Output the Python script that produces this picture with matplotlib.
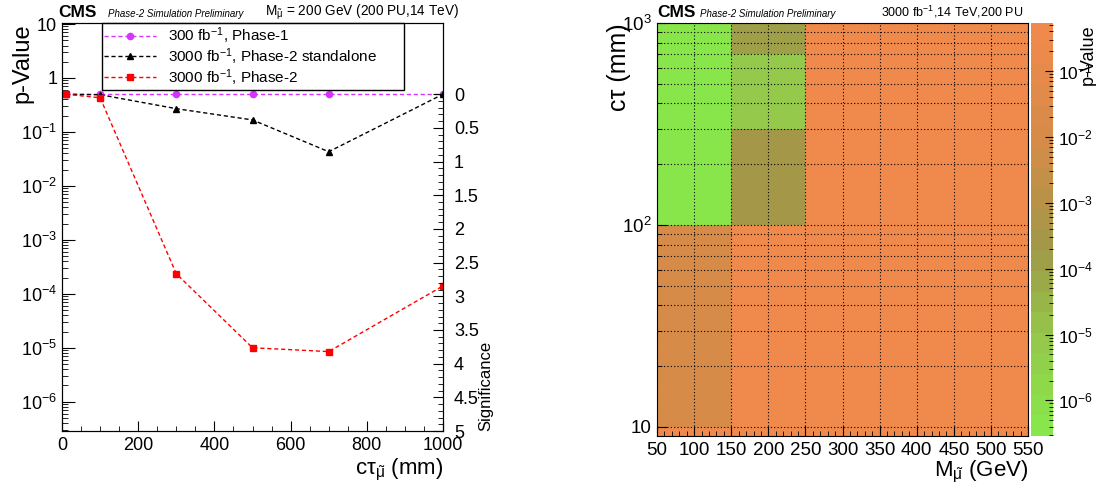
import math
import matplotlib
matplotlib.use('Agg')
import matplotlib.pyplot as plt
import numpy as np
from matplotlib.colors import LinearSegmentedColormap, ListedColormap, LogNorm
from matplotlib.ticker import FixedLocator, FixedFormatter, MultipleLocator, LogLocator, NullFormatter

plt.rcParams['font.family'] = ['Liberation Sans', 'DejaVu Sans']
plt.rcParams['mathtext.fontset'] = 'custom'
plt.rcParams['mathtext.rm'] = 'Liberation Sans'
plt.rcParams['mathtext.it'] = 'Liberation Sans:italic'
plt.rcParams['mathtext.bf'] = 'Liberation Sans:bold'

# ---- left panel data: p-value vs c*tau at M = 200 GeV
ctau = [10, 100, 300, 500, 700, 1000]
p_phase1 = [0.5, 0.5, 0.5, 0.5, 0.5, 0.5]
p_phase2_sa = [0.5, 0.49, 0.27, 0.167, 0.043, 0.5]
p_phase2 = [0.5, 0.43, 2.35e-4, 1.0e-5, 8.5e-6, 1.4e-4]

sig_labels = [0, 0.5, 1, 1.5, 2, 2.5, 3, 3.5, 4, 4.5, 5]

# ---- right panel data: p-value map in (mass, c*tau)
mass_edges = [50, 150, 250, 350, 450, 550]
ctau_edges = [9, 10, 100, 300, 700, 1000]
pmap = [
    [0.5, 0.5, 0.5, 0.5, 0.5],        # 9-10 mm
    [1.0e-2, 0.5, 0.5, 0.5, 0.5],     # 10-100 mm
    [3.0e-7, 2.35e-4, 0.5, 0.5, 0.5], # 100-300 mm
    [3.0e-7, 1.0e-5, 0.5, 0.5, 0.5],  # 300-700 mm
    [3.0e-7, 1.4e-4, 0.5, 0.5, 0.5],  # 700-1000 mm
]


def z_to_p(z):
    return 0.5 * math.erfc(z / math.sqrt(2))


p_min = z_to_p(5.0)
p_top = 10 ** (1 + 1 / 54.)

fig = plt.figure(figsize=(10.96, 4.90), dpi=100)

# ================= left panel =================
ax = fig.add_axes([0.0566, 0.1204, 0.3476, 0.8326])
ls = (0, (3, 2))
ax.plot(ctau, p_phase1, color='#d633ff', ls=ls, lw=1, marker='o', ms=4.5,
        label='300 fb$^{-1}$, Phase-1')
ax.plot(ctau, p_phase2_sa, color='black', ls=ls, lw=1, marker='^', ms=4.5,
        label='3000 fb$^{-1}$, Phase-2 standalone')
ax.plot(ctau, p_phase2, color='#ff0000', ls=ls, lw=1, marker='s', ms=5,
        label='3000 fb$^{-1}$, Phase-2')
ax.set_yscale('log')
ax.set_xlim(0, 1000)
ax.set_ylim(p_min, p_top)
ax.xaxis.set_major_locator(MultipleLocator(200))
ax.xaxis.set_minor_locator(MultipleLocator(50))
ax.yaxis.set_major_locator(FixedLocator([1e-6, 1e-5, 1e-4, 1e-3, 1e-2, 1e-1, 1, 10]))
ax.yaxis.set_major_formatter(FixedFormatter(['$10^{-6}$', '$10^{-5}$', '$10^{-4}$', '$10^{-3}$',
                                             '$10^{-2}$', '$10^{-1}$', '1', '10']))
ax.yaxis.set_minor_locator(LogLocator(base=10, subs=np.arange(2, 10), numticks=20))
ax.yaxis.set_minor_formatter(NullFormatter())
ax.tick_params(which='both', direction='in', labelsize=13, right=False, top=False)
ax.tick_params(axis='y', which='major', length=9)
ax.tick_params(axis='y', which='minor', length=4.5)
ax.tick_params(axis='x', which='major', length=7, pad=4)
ax.tick_params(axis='x', which='minor', length=3.5)

leg = ax.legend(loc='upper left', bbox_to_anchor=(0.105, 0.843, 0.793, 0.157), mode='expand',
                fontsize=11, frameon=True, fancybox=False, edgecolor='black', framealpha=1,
                borderaxespad=0, handlelength=3.4, handletextpad=0.8, labelspacing=0.02,
                borderpad=0.15)
leg.get_frame().set_linewidth(1)

# significance axis on the right (linear, 0 at p = 0.5, 5 at the bottom)
z_top = -(math.log10(p_top) - math.log10(0.5)) / (math.log10(0.5) - math.log10(p_min)) * 5
ax2 = ax.twinx()
ax2.set_ylim(5, z_top)
ax2.yaxis.set_major_locator(FixedLocator(sig_labels))
ax2.yaxis.set_major_formatter(FixedFormatter([('%g' % z) for z in sig_labels]))
ax2.yaxis.set_minor_locator(FixedLocator([z / 10. for z in range(0, 51)]))
ax2.yaxis.set_minor_formatter(NullFormatter())
ax2.tick_params(which='both', direction='in', labelsize=13)
ax2.tick_params(which='major', length=7, pad=8)
ax2.tick_params(which='minor', length=3.5)
fig.text(0.4435, 0.12, 'Significance', rotation=90, ha='center', va='bottom', fontsize=12)

fig.text(0.0205, 0.953, 'p-Value', rotation=90, ha='center', va='top', fontsize=17)
fig.text(0.4042, 0.041, 'c\u03c4$_{\\tilde{\\mathrm{\u03bc}}}$ (mm)', ha='right', va='center', fontsize=16)

fig.text(0.053, 0.975, 'CMS', fontsize=12.5, fontweight='bold', ha='left', va='center')
fig.text(0.0985, 0.972, 'Phase-2 Simulation Preliminary', fontsize=7, style='italic',
         ha='left', va='center')
fig.text(0.242, 0.975, 'M$_{\\tilde{\\mathrm{\u03bc}}}$ = 200 GeV (200 PU,14 TeV)', fontsize=9.8,
         ha='left', va='center')

# ================= right panel =================
cvals = [(0.0, (136 / 255., 230 / 255., 74 / 255.)),
         (0.25, (150 / 255., 195 / 255., 75 / 255.)),
         (0.45, (160 / 255., 152 / 255., 72 / 255.)),
         (0.72, (212 / 255., 140 / 255., 72 / 255.)),
         (1.0, (240 / 255., 137 / 255., 76 / 255.))]
smooth = LinearSegmentedColormap.from_list('pal', cvals)
cmap = ListedColormap(smooth(np.linspace(0, 1, 20)))
norm = LogNorm(vmin=p_min, vmax=10 ** -0.27)

bx = fig.add_axes([0.5995, 0.110, 0.3385, 0.843])
mesh = bx.pcolormesh(mass_edges, ctau_edges, np.array(pmap), cmap=cmap, norm=norm)
bx.set_yscale('log')
bx.set_xlim(50, 550)
bx.set_ylim(ctau_edges[0], 1000)
bx.xaxis.set_major_locator(MultipleLocator(50))
bx.xaxis.set_minor_locator(MultipleLocator(10))
bx.yaxis.set_major_locator(FixedLocator([10, 100, 1000]))
bx.yaxis.set_major_formatter(FixedFormatter(['10', '$10^{2}$', '$10^{3}$']))
bx.yaxis.set_minor_locator(LogLocator(base=10, subs=np.arange(2, 10), numticks=20))
bx.yaxis.set_minor_formatter(NullFormatter())
bx.tick_params(which='both', direction='in', labelsize=13.5, top=False, right=False)
bx.tick_params(which='major', length=7, pad=4)
bx.tick_params(which='minor', length=3.5)
bx.grid(True, which='major', axis='both', color='black', ls=(0, (1, 2)), lw=0.8)
bx.grid(True, which='minor', axis='y', color='black', ls=(0, (1, 2)), lw=0.8)
bx.set_axisbelow(False)

cax = fig.add_axes([0.9407, 0.110, 0.020, 0.843])
cb = fig.colorbar(mesh, cax=cax)
cb.outline.set_visible(False)
cax.yaxis.set_major_locator(FixedLocator([1e-6, 1e-5, 1e-4, 1e-3, 1e-2, 1e-1]))
cax.yaxis.set_major_formatter(FixedFormatter(['$10^{-6}$', '$10^{-5}$', '$10^{-4}$',
                                              '$10^{-3}$', '$10^{-2}$', '$10^{-1}$']))
cax.yaxis.set_minor_locator(LogLocator(base=10, subs=np.arange(2, 10), numticks=20))
cax.yaxis.set_minor_formatter(NullFormatter())
cax.tick_params(which='both', direction='in', labelsize=12.5, right=True, left=False, color='black')
cax.tick_params(which='major', length=6)
cax.tick_params(which='minor', length=3)
fig.text(0.993, 0.95, 'p-Value', rotation=90, ha='center', va='top', fontsize=13)

fig.text(0.5645, 0.953, 'c\u03c4 (mm)', rotation=90, ha='center', va='top', fontsize=18)
fig.text(0.938, 0.037, 'M$_{\\tilde{\\mathrm{\u03bc}}}$ (GeV)', ha='right', va='center', fontsize=16)

fig.text(0.5995, 0.975, 'CMS', fontsize=12.5, fontweight='bold', ha='left', va='center')
fig.text(0.639, 0.972, 'Phase-2 Simulation Preliminary', fontsize=7, style='italic',
         ha='left', va='center')
fig.text(0.934, 0.975, '3000 fb$^{-1}$,14 TeV,200 PU', fontsize=9, ha='right', va='center')

fig.savefig('out.png', dpi=100)
